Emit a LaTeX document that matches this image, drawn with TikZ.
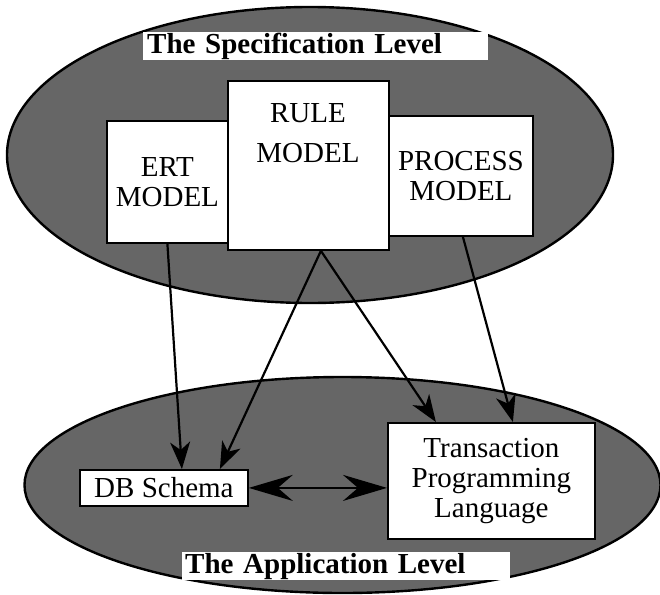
\documentclass[tikz,border=0pt]{standalone}
\usepackage{fontspec}
\setmainfont{Liberation Serif}
\usetikzlibrary{arrows.meta,calc}
\begin{document}
\begin{tikzpicture}[x=1pt,y=-1pt,
  level/.style={draw=black, line width=2.4pt, fill=black!60},
  box/.style={draw=black, line width=1.8pt, fill=white, inner sep=0pt, anchor=north west,
    font=\fontsize{29}{30}\selectfont, align=center},
  lbl/.style={font=\fontsize{29}{40}\selectfont, align=center, inner sep=0pt},
  title/.style={fill=white, inner ysep=0pt, minimum height=28pt,
    font=\bfseries\fontsize{29}{30}\selectfont, align=left, anchor=north west},
  arr/.style={line width=2.2pt, -{Stealth[length=27pt,width=20pt,inset=8pt]}},
  dbl/.style={line width=2.6pt, {Stealth[length=44pt,width=26pt,inset=15pt]}-{Stealth[length=44pt,width=26pt,inset=15pt]}}
]
\useasboundingbox (0,0) rectangle (660,594);
% levels
\draw[level] (310,155) ellipse [x radius=303pt, y radius=148pt];
\draw[level] (342.5,485) ellipse [x radius=318pt, y radius=108pt];
% titles
\node[title, text width=337pt, inner xsep=4pt] (spec) at (143,32) {The Specification Level};
\node[title, text width=322pt, inner xsep=3pt] (app) at (182,552) {The Application Level};
% specification boxes
\node[box, minimum width=121pt, minimum height=122pt] (ert) at (106,120) {ERT\\MODEL};
\node[box, minimum width=161pt, minimum height=169pt] (rule) at (227,80) {};
\node[lbl] (rulet) at (308,133) {RULE\\MODEL};
\node[box, minimum width=144pt, minimum height=120pt] (proc) at (388,115) {PROCESS\\MODEL};
% application boxes
\node[box, minimum width=168pt, minimum height=36pt] (db) at (79,469) {DB Schema};
\node[box, minimum width=207pt, minimum height=116pt] (tpl) at (387,422) {Transaction\\Programming\\Language};
% connectors
\draw[arr] (ert.south) -- ($(db.north)+(18,0)$);
\draw[arr] ($(rule.south)+(12.5,0)$) -- ($(db.north)+(56,0)$);
\draw[arr] ($(rule.south)+(12.5,0)$) -- ($(tpl.north)+(-55.5,0)$);
\draw[arr] ($(proc.south)+(2,0)$) -- ($(tpl.north)+(21.5,0)$);
\draw[dbl] (db.east) -- (db.east -| tpl.west);
\end{tikzpicture}
\end{document}
